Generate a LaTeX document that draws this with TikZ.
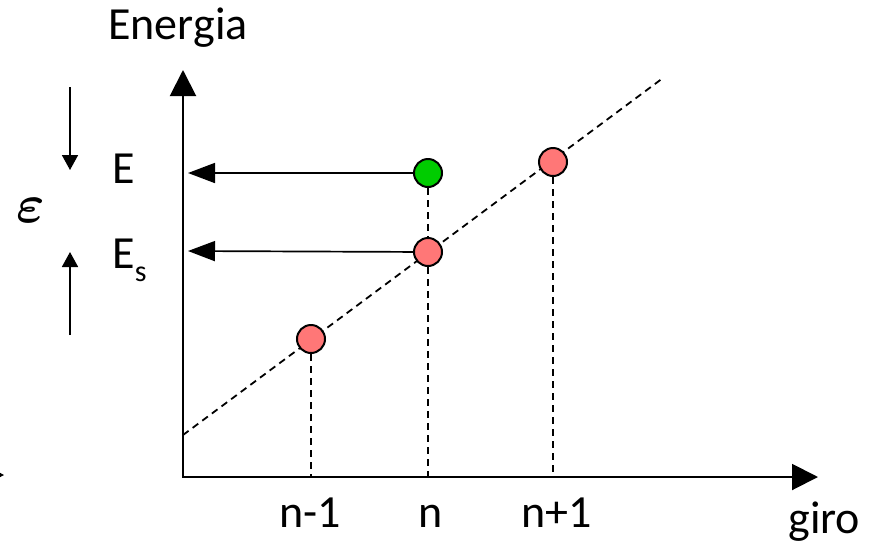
\documentclass[tikz,border=0pt]{standalone}
\usepackage{fontspec}
\setmainfont{Carlito}
\usetikzlibrary{arrows.meta}
\definecolor{dotgreen}{HTML}{00CC00}
\definecolor{dotpink}{HTML}{FF7777}
\begin{document}
\begin{tikzpicture}[x=0.5pt,y=-0.5pt,
  axis/.style={line width=1pt,{Triangle[length=13pt,width=13pt]}-{Triangle[length=13pt,width=13pt]}},
  pointer/.style={line width=0.85pt,-{Triangle[length=13.5pt,width=10pt]}},
  side/.style={line width=0.85pt,-{Triangle[length=7.5pt,width=8pt]}},
  guide/.style={line width=0.9pt,dash pattern=on 3.5pt off 2.5pt},
  dot/.style={circle,draw,line width=1pt,minimum size=14pt,inner sep=0pt},
  lbl/.style={font=\fontsize{23}{27}\selectfont,inner sep=0pt,anchor=base west}]
\useasboundingbox (0,0) rectangle (874,542);
% axes
\coordinate (O) at (183,477);
\coordinate (ytop) at (183,70);
\coordinate (xend) at (818,477);
\draw[axis] (ytop) -- (O) -- (xend);
% diagonal
\coordinate (d0) at (183,435);
\coordinate (d1) at (663,78);
\draw[guide] (d0) -- (d1);
% dots
\node[dot,fill=dotgreen] (g) at (428,173) {};
\node[dot,fill=dotpink] (pn) at (428,252) {};
\node[dot,fill=dotpink] (pn1) at (553,162) {};
\node[dot,fill=dotpink] (pm1) at (311,339) {};
% ticks on x axis
\coordinate (t1) at (311,477);
\coordinate (tn) at (428,477);
\coordinate (tn1) at (553,477);
\draw[guide] (pm1) -- (t1);
\draw[guide] (pn) -- (tn);
\draw[guide] (g) -- (pn);
\draw[guide] (pn1) -- (tn1);
% horizontal arrows
\coordinate (eE) at (188,173);
\coordinate (eEs) at (188,251);
\draw[pointer] (g) -- (eE);
\draw[pointer] (pn) -- (eEs);
% left arrows
\coordinate (a1) at (70,87);
\coordinate (a2) at (70,170);
\coordinate (b1) at (70,335);
\coordinate (b2) at (70,252);
\draw[side] (a1) -- (a2);
\draw[side] (b1) -- (b2);
\coordinate (s1) at (-20,475);
\coordinate (s2) at (4,475);
\draw[side] (s1) -- (s2);
% labels
\node[lbl] (energia) at (108,39) {Energia};
\node[lbl] (lE) at (112,183) {E};
\node[lbl] (lEs) at (112,268) {E\raisebox{-0.3em}{\fontsize{15}{15}\selectfont s}};
\node[inner sep=0pt] (eps) at (31,210) {\scalebox{2.7}{\boldmath$\varepsilon$}};
\node[lbl] (ln1) at (279,527) {n-1};
\node[lbl] (ln) at (418,527) {n};
\node[lbl] (lnp) at (521,527) {n+1};
\node[lbl] (giro) at (788,533) {giro};
\end{tikzpicture}
\end{document}
